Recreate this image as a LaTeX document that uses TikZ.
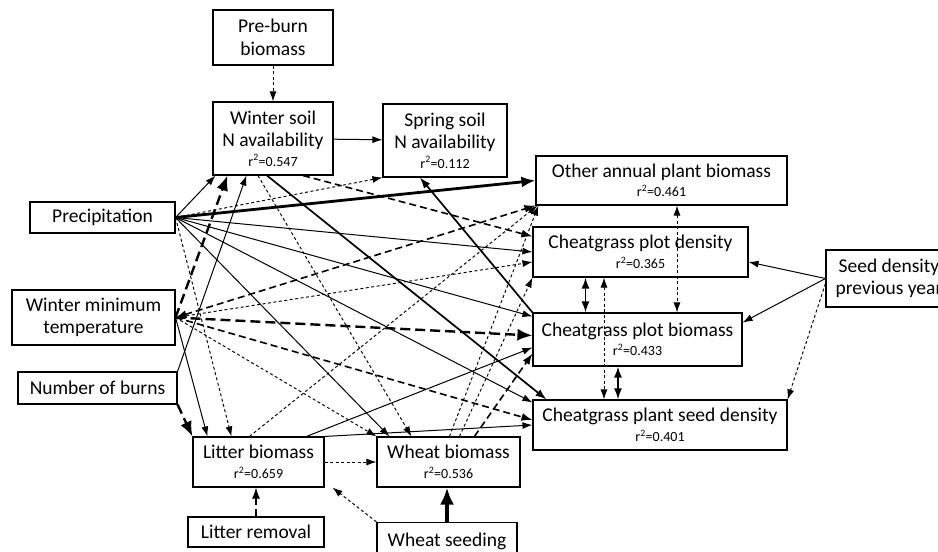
\documentclass[tikz,border=0pt]{standalone}
\usepackage{fontspec}
\setmainfont{Carlito}
\usetikzlibrary{arrows.meta}
\newcommand{\rsq}[1]{{\fontsize{14}{15}\selectfont r\textsuperscript{2}=#1}}

\begin{document}
\begin{tikzpicture}[x=1pt,y=-1pt,
  box/.style={draw,line width=1.1pt,align=center,inner sep=0pt,font=\fontsize{19.5}{22.5}\selectfont},
  thinline/.style={line width=1pt,>={Latex[length=10pt,width=7pt]},->},
  medline/.style={line width=1.7pt,>={Latex[length=11pt,width=8pt]},->},
  heavyline/.style={line width=2.8pt,>={Latex[length=14pt,width=11pt]},->},
  dotline/.style={line width=0.95pt,dash pattern=on 3pt off 2.5pt,>={Latex[length=10pt,width=7pt]},->},
  dshline/.style={line width=1.6pt,dash pattern=on 7pt off 4pt,>={Latex[length=11pt,width=8pt]},->},
  bigdshline/.style={line width=2.4pt,dash pattern=on 10pt off 5pt,>={Latex[length=15pt,width=12pt]},->}]
  \useasboundingbox (0,0) rectangle (938,552);
  \node[box,minimum width=120,minimum height=55] (A) at (273,37.5) {Pre-burn\\biomass};
  \node[box,minimum width=120,minimum height=73] (B) at (273,138.5) {Winter soil\\N availability\\[-3pt]\rsq{0.547}};
  \node[box,minimum width=124,minimum height=73] (C) at (445,140.5) {Spring soil\\N availability\\[-3pt]\rsq{0.112}};
  \node[box,minimum width=145,minimum height=31] (D) at (102.5,217.5) {Precipitation};
  \node[box,minimum width=163,minimum height=55] (E) at (93.5,317.5) {Winter minimum\\temperature};
  \node[box,minimum width=159,minimum height=32] (F) at (97.5,388) {Number of burns};
  \node[box,minimum width=131,minimum height=50] (G) at (258.5,462) {Litter biomass\\[-3pt]\rsq{0.659}};
  \node[box,minimum width=143,minimum height=50] (H) at (448.5,462) {Wheat biomass\\[-3pt]\rsq{0.536}};
  \node[box,minimum width=136,minimum height=30] (I) at (256,532) {Litter removal};
  \node[box,minimum width=140,minimum height=37] (J) at (447,541) {Wheat seeding};
  \node[box,minimum width=251,minimum height=49] (K) at (661.5,180.5) {Other annual plant biomass\\[-3pt]\rsq{0.461}};
  \node[box,minimum width=215,minimum height=50] (L) at (640.5,252) {Cheatgrass plot density\\[-3pt]\rsq{0.365}};
  \node[box,minimum width=209,minimum height=53] (M) at (637.5,339.5) {Cheatgrass plot biomass\\[-3pt]\rsq{0.433}};
  \node[box,minimum width=254,minimum height=50] (N) at (660,425) {Cheatgrass plant seed density\\[-3pt]\rsq{0.401}};
  \node[box,minimum width=126,minimum height=57] (O) at (889,278.5) {Seed density\\previous year};

  \draw[dotline] (A) -- (B);
  \draw[thinline] (B) -- (C);
  \foreach \a/\b/\t in {3/0/B.south west,0/0/L.west,0/-4/M.north west,0/-3/N.north west,13/0/H.north west} {
    \draw[thinline] (D.east) -- ([xshift=\a pt,yshift=\b pt]\t);
  }
  \draw[heavyline] (D.east) -- (K.west);
  \draw[dotline] (D.east) -- (C.south west);
  \draw[dotline] (D.east) -- ([xshift=39pt]G.north west);

  \draw[bigdshline] (E.east) -- ([xshift=15pt]B.south west);
  \draw[dshline,<->] (E.east) -- (K.south west);
  \draw[dotline] (E.east) -- ([yshift=-10pt]L.west);
  \draw[bigdshline] (E.east) -- ([yshift=4pt]M.west);
  \draw[dshline] (E.east) -- ([yshift=5pt]N.west);
  \draw[dotline] (E.east) -- (H.north west);
  \draw[thinline] (E.east) -- ([xshift=15pt]G.north west);

  \draw[thinline] (F.north east) -- ([xshift=34pt]B.south west);
  \draw[bigdshline] (F.south east) -- (G.north west);

  \draw[dotline] ([xshift=-15pt]B.south) -- ([xshift=35pt]H.north west);
  \draw[medline] ([xshift=-6pt]B.south) -- ([xshift=14pt]N.north west);
  \draw[dshline] ([xshift=30pt]B.south) -- ([yshift=-10pt]L.north west);
  \draw[medline] (M.north west) -- ([xshift=-25pt]C.south);

  \draw[dotline] ([xshift=57pt]G.north west) -- ([xshift=2pt]K.south west);
  \draw[thinline] ([xshift=114pt]G.north west) -- ([yshift=-8pt]M.west);
  \draw[thinline] (G.north east) -- (N.west);
  \draw[dotline] (G.east) -- (H.west);

  \draw[dotline] ([xshift=73pt]H.north west) -- ([xshift=3pt]K.south west);
  \draw[dotline] ([xshift=83pt]H.north west) -- (L.south west);
  \draw[dshline] ([xshift=98pt]H.north west) -- ([yshift=13pt]M.south west);

  \draw[dshline,line width=1.1pt] (I.north) -- ([xshift=-2.5pt]G.south);
  \draw[heavyline,line width=4.5pt,>={Latex[length=17pt,width=14pt]}] (J.north) -- ([xshift=-1.5pt]H.south);
  \draw[dotline] (J.north west) -- ([xshift=8pt]G.south east);

  \draw[medline,<->] ([xshift=-55pt]L.south) -- ([xshift=-52pt]M.north);
  \draw[dotline,<->] ([xshift=-36.5pt]L.south) -- ([xshift=-56pt]N.north);
  \draw[medline,<->] ([xshift=-19.5pt]M.south) -- ([xshift=-42pt]N.north);
  \draw[dotline,<->] ([xshift=15.5pt]K.south) -- ([xshift=39.5pt]M.north);

  \draw[thinline] (O.west) -- ([yshift=-10pt]L.east);
  \draw[thinline] (O.west) -- ([yshift=17pt]M.east);
  \draw[dotline] ([yshift=-5pt]O.west) -- (N.north east);
\end{tikzpicture}
\end{document}
